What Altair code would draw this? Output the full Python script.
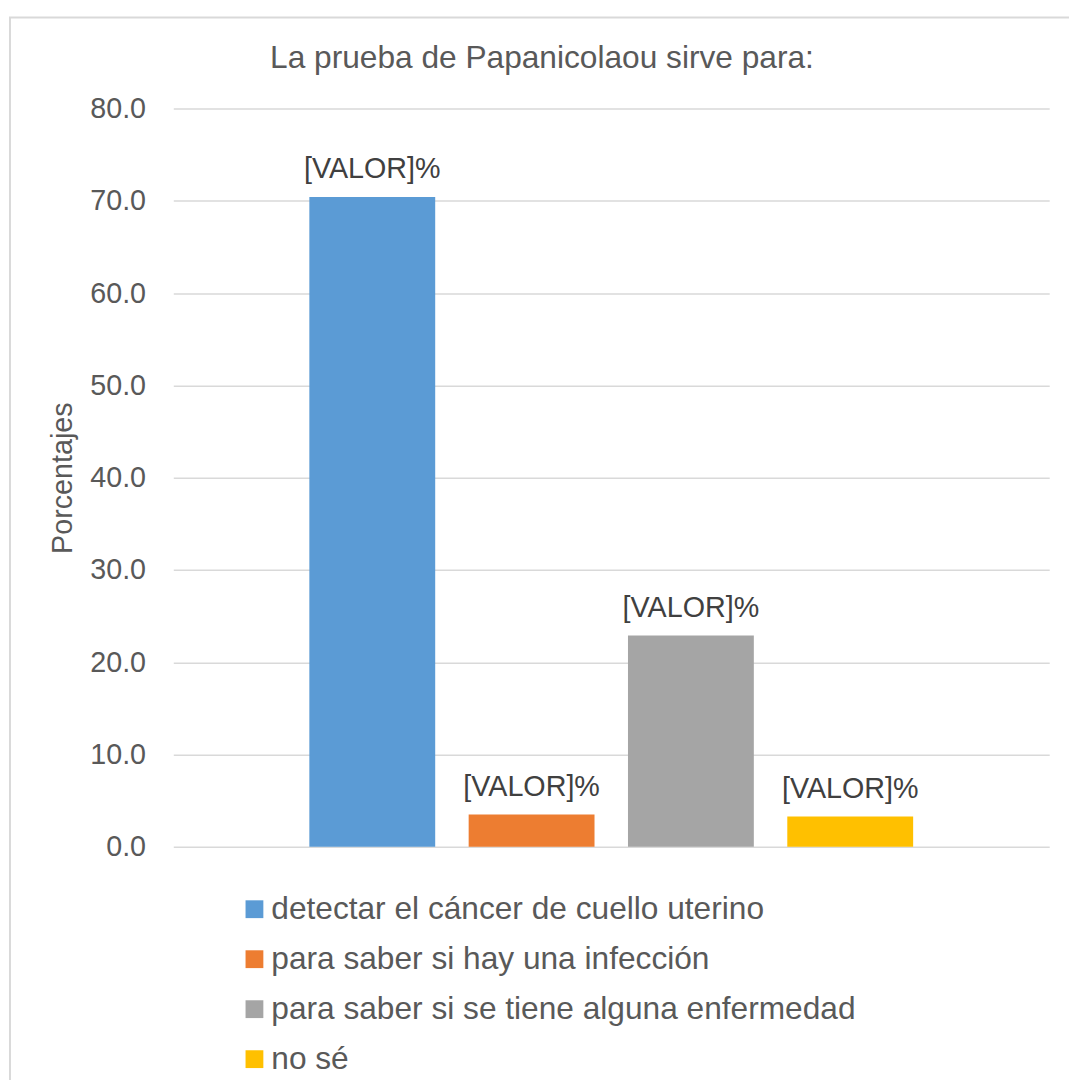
import altair as alt
import pandas as pd

categories = [
    "detectar el cáncer de cuello uterino",
    "para saber si hay una infección",
    "para saber si se tiene alguna enfermedad",
    "no sé",
]
values = [70.4, 3.5, 22.9, 3.3]
labels = ["[VALOR]%", "[VALOR]%", "[VALOR]%", "[VALOR]%"]
colors = ["#5B9BD5", "#ED7D31", "#A5A5A5", "#FFC000"]
y_ticks = [0, 10, 20, 30, 40, 50, 60, 70, 80]

df = pd.DataFrame({"cat": categories, "val": values, "lab": labels})

FONT = "Liberation Sans"
TXT = "#595959"

x_enc = alt.X(
    "cat:N",
    sort=categories,
    axis=None,
    scale=alt.Scale(paddingInner=0.21, paddingOuter=0.854),
)
y_enc = alt.Y(
    "val:Q",
    scale=alt.Scale(domain=[0, 80], nice=False),
    axis=alt.Axis(
        values=y_ticks,
        format=".1f",
        title="Porcentajes",
        titleFont=FONT,
        titleFontSize=29,
        titleFontWeight="normal",
        titleColor=TXT,
        titleAngle=270,
        titleX=-112,
        titleY=373,
        titleAlign="center",
        titleBaseline="middle",
        labelFont=FONT,
        labelFontSize=29,
        labelColor=TXT,
        labelPadding=28,
        ticks=False,
        domain=False,
        grid=True,
        gridColor="#d9d9d9",
        gridWidth=1.5,
    ),
)

frame = alt.Chart(pd.DataFrame({"a": [0]})).mark_rect(
    fill=None, stroke="#d9d9d9", strokeWidth=2, clip=False
).encode(
    x=alt.value(-165), x2=alt.value(930), y=alt.value(-92), y2=alt.value(1010)
)

bars = alt.Chart(df).mark_bar().encode(
    x=x_enc,
    y=y_enc,
    color=alt.Color(
        "cat:N",
        sort=categories,
        scale=alt.Scale(domain=categories, range=colors),
        legend=alt.Legend(
            title=None,
            orient="none",
            legendX=66,
            legendY=793,
            direction="vertical",
            symbolType="square",
            symbolSize=324,
            symbolStrokeWidth=0,
            symbolOpacity=1,
            labelFont=FONT,
            labelFontSize=32,
            labelColor=TXT,
            labelOffset=1,
            labelLimit=0,
            rowPadding=18.5,
        ),
    ),
)

text = alt.Chart(df).mark_text(
    baseline="bottom", dy=-13, font=FONT, fontSize=29, color="#404040"
).encode(x=x_enc, y=alt.Y("val:Q"), text="lab:N")

chart = alt.layer(frame, bars, text).properties(
    width=885,
    height=746,
    autosize=alt.AutoSizeParams(type="none"),
    padding={"left": 167, "top": 96, "right": 20, "bottom": 230},
    title=alt.TitleParams(
        "La prueba de Papanicolaou sirve para:",
        font=FONT,
        fontSize=32,
        fontWeight="normal",
        color=TXT,
        anchor="middle",
        frame="group",
        baseline="alphabetic",
        dx=-70,
        offset=-84,
    ),
).configure_view(stroke=None)

chart.save("out.html", embed_options={"renderer": "svg", "actions": False})
